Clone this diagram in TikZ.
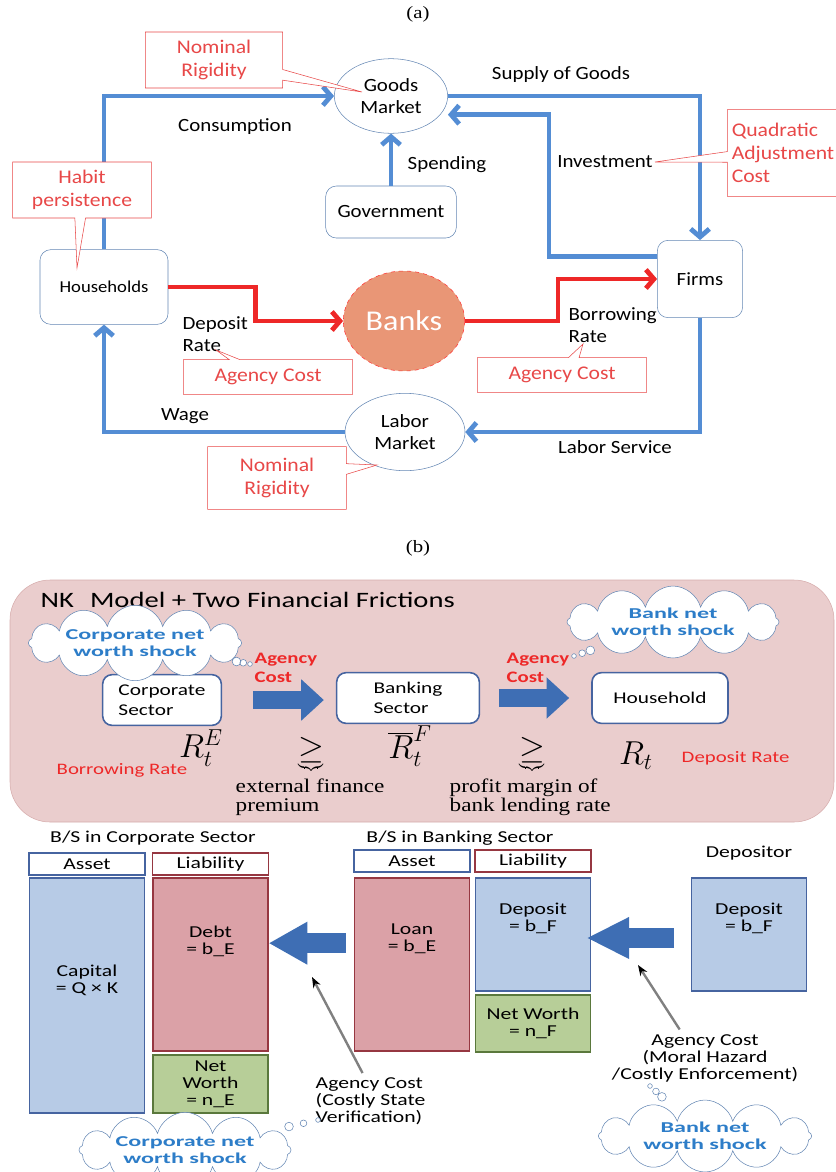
\documentclass[tikz,border=0pt]{standalone}
\usepackage{fontspec}
\setmainfont[FakeStretch=1.12]{Carlito}
\newfontfamily\wide[FakeStretch=1.3]{Carlito}
\newfontfamily\wider[FakeStretch=1.6]{Carlito}
\newfontfamily\tnr[FakeStretch=1.2]{Liberation Serif}
\usetikzlibrary{shapes.geometric,shapes.symbols,shapes.callouts,arrows.meta}
\tikzset{>={Straight Barb[length=6pt,width=14pt]}}
\definecolor{flowblue}{RGB}{84,141,212}
\definecolor{ratered}{RGB}{238,40,40}
\definecolor{notered}{RGB}{232,72,72}
\definecolor{edgeblue}{RGB}{100,135,180}
\definecolor{bankfill}{RGB}{233,150,118}
\definecolor{panelpink}{RGB}{234,205,205}
\definecolor{paneledge}{RGB}{214,172,172}
\definecolor{fatblue}{RGB}{62,110,180}
\definecolor{shockblue}{RGB}{45,125,200}
\definecolor{assetfill}{RGB}{183,203,230}
\definecolor{assetedge}{RGB}{70,100,160}
\definecolor{debtfill}{RGB}{219,161,167}
\definecolor{debtedge}{RGB}{150,55,65}
\definecolor{worthfill}{RGB}{183,206,152}
\definecolor{worthedge}{RGB}{90,120,60}

\begin{document}
\begin{tikzpicture}[x=.75pt,y=-.75pt]
      \tikzstyle{lbl}=[font=\fontsize{14}{17}\selectfont,inner sep=1pt];
      \tikzstyle{market}=[ellipse,draw=edgeblue,fill=white,align=center,inner sep=0pt,font=\fontsize{14}{17}\selectfont];
      \tikzstyle{agent}=[rectangle,rounded corners=8pt,draw=edgeblue,fill=white,align=center,font=\fontsize{14}{17}\selectfont];
      \tikzstyle{flowline}=[flowblue,line width=3.6pt,->];
      \tikzstyle{rateline}=[ratered,line width=3.6pt,->];
      \tikzstyle{notebox}=[rectangle callout,draw=notered,fill=white,text=notered,align=center,callout pointer width=8pt,font=\fontsize{14.5}{17}\selectfont];
      \tikzstyle{sectorbox}=[rectangle,rounded corners=7pt,draw=assetedge,line width=1.2pt,fill=white,align=left,minimum height=38pt,font=\wide\fontsize{12.3}{15}\selectfont];
      \tikzstyle{fatarrow}=[fatblue,line width=13pt,-{Triangle[length=17pt,width=30pt]}];
      \tikzstyle{agencylbl}=[text=ratered,align=left,anchor=west,font=\wide\bfseries\fontsize{12}{14}\selectfont];
      \tikzstyle{shockcloud}=[cloud callout,cloud puffs=12,cloud ignores aspect,draw=edgeblue,fill=white,text=shockblue,align=center,inner sep=0pt,callout pointer start size=8pt,callout pointer end size=3.5pt,callout pointer segments=3,font=\wider\bfseries\fontsize{11.3}{12.5}\selectfont];
      \tikzstyle{ratemath}=[inner sep=0pt,font=\fontsize{25}{28}\selectfont];
      \tikzstyle{gemath}=[inner sep=0pt,font=\fontsize{24}{26}\selectfont];
      \tikzstyle{serifnote}=[anchor=north west,align=left,font=\tnr\fontsize{14.5}{14.3}\selectfont];
      \tikzstyle{bsfont}=[font=\wide\fontsize{12.5}{12.8}\selectfont];
      \tikzstyle{bshead}=[bsfont,rectangle,fill=white,line width=1.2pt,minimum width=87pt,minimum height=16.5pt,inner sep=0pt];
      \tikzstyle{bsbox}=[rectangle,line width=1.2pt,minimum width=86pt,inner sep=0pt];
      \tikzstyle{bstext}=[bsfont,align=center];
      \tikzstyle{thinarrow}=[draw=gray,line width=1.8pt,-{Stealth[length=8pt,width=6pt,black]}];

      \useasboundingbox (0,0) rectangle (836,1172);

      \node[font=\tnr\fontsize{13}{15}\selectfont] (taga) at (418,14) {(a)};
      \node[market,minimum width=85pt,minimum height=56pt] (gm) at (391,96) {Goods\\Market};
      \node[agent,minimum width=96pt,minimum height=56pt,font=\fontsize{12.5}{15}\selectfont] (hh) at (104,287) {Households};
      \node[agent,minimum width=98pt,minimum height=39pt] (gov) at (391,212) {Government};
      \node[agent,minimum width=64pt,minimum height=58pt] (firms) at (700,279) {Firms};
      \node[ellipse,draw=red!80,dashed,fill=bankfill,text=white,minimum width=91pt,minimum height=75pt,font=\fontsize{21.5}{24}\selectfont] (banks) at (404,321) {Banks};
      \node[market,minimum width=90pt,minimum height=58pt] (lm) at (405,432) {Labor\\Market};

      \draw[flowline] (hh.north) |- (gm.west);
      \draw[flowline] (gov) -- (gm);
      \draw[flowline] (gm.east) -| (firms.north);
      \draw[flowline] ([yshift=17pt]firms.west) -- ++(-108,0) |- ([yshift=-14pt]gm.east);
      \draw[flowline] (firms.south) |- (lm.east);
      \draw[flowline] (lm.west) -| (hh.south);
      \draw[rateline] (hh.east) -- ++(87,0) |- (banks.west);
      \draw[rateline] (banks.east) -- ++(93,0) |- (firms.west);

      \node[lbl] (lcons) at (235,127) {Consumption};
      \node[lbl] (lspend) at (447,165) {Spending};
      \node[lbl] (lsupply) at (561,75) {Supply of Goods};
      \node[lbl] (linv) at (605,162) {Investment};
      \node[lbl,align=left,anchor=west] (ldep) at (181,334) {Deposit\\Rate};
      \node[lbl,align=left,anchor=west] (lborr) at (567,325) {Borrowing\\Rate};
      \node[lbl] (lwage) at (185,416) {Wage};
      \node[lbl] (llab) at (615,447) {Labor Service};

      \node[notebox,minimum width=103pt,minimum height=42pt,callout absolute pointer={(362,92)}] (nr1) at (214,60) {Nominal\\Rigidity};
      \node[notebox,minimum width=104pt,minimum height=42pt,callout absolute pointer={(77,268)}] (habit) at (82,190) {Habit\\persistence};
      \node[notebox,minimum width=80pt,minimum height=65pt,align=left,callout absolute pointer={(655,162)}] (quad) at (783,153) {Quadratic\\Adjustment\\Cost};
      \node[notebox,minimum width=127pt,minimum height=26pt,callout absolute pointer={(216,350)}] (ac1top) at (268,377) {Agency Cost};
      \node[notebox,minimum width=127pt,minimum height=26pt,callout absolute pointer={(583,344)}] (ac2top) at (562,375) {Agency Cost};
      \node[notebox,minimum width=104pt,minimum height=47pt,callout absolute pointer={(377,465)}] (nr2) at (277,478) {Nominal\\Rigidity};

      \node[font=\tnr\fontsize{13}{15}\selectfont] (tagb) at (418,548) {(b)};
      \draw[draw=paneledge,fill=panelpink,rounded corners=30pt] (10,580) rectangle (834,822);
      \node[anchor=west,font=\wide\fontsize{16.5}{18}\selectfont] (title) at (36,600) {NK\hspace{12pt}Model + Two Financial Frictions};

      \node[sectorbox,minimum width=89pt] (corp) at (162,700) {Corporate\\Sector};
      \node[sectorbox,minimum width=107pt] (bank) at (408,698) {Banking\\Sector};
      \node[sectorbox,minimum width=102pt] (house) at (660,698) {Household};
      \draw[fatarrow,shorten <=23pt,shorten >=9pt] (corp.east) -- (bank.west |- corp.east);
      \draw[fatarrow,shorten <=14pt,shorten >=16.5pt] (bank.east) -- (house.west);
      \node[agencylbl] (ag1) at (250,668) {Agency\\Cost};
      \node[agencylbl] (ag2) at (502,668) {Agency\\Cost};

      \node[shockcloud,minimum width=160pt,minimum height=38pt,callout absolute pointer={(250,664)}] (cs1) at (135,643) {Corporate net\\worth shock};
      \node[shockcloud,minimum width=159pt,minimum height=47pt,callout absolute pointer={(574,656)}] (bs1) at (673,622) {Bank net\\worth shock};

      \node[ratemath] (re) at (201,748) {$R_t^E$};
      \node[ratemath] (rf) at (410,746) {$\overline{R}_t^F$};
      \node[ratemath] (rt) at (636,756) {$R_t$};
      \node[gemath] (ge1) at (311,755) {$\underbrace{\geq}$};
      \node[gemath] (ge2) at (532,755) {$\underbrace{\geq}$};
      \node[text=ratered,anchor=west,font=\wide\fontsize{12}{14}\selectfont] (lborrow) at (52,770) {Borrowing Rate};
      \node[text=ratered,anchor=west,font=\wide\fontsize{12}{14}\selectfont] (ldeposit) at (677,758) {Deposit Rate};
      \node[serifnote] (efp) at (231,774) {external finance\\premium};
      \node[serifnote] (pm) at (445,774) {profit margin of\\bank lending rate};

      \node[bsfont] (bsc) at (153,838) {B/S in Corporate Sector};
      \node[bshead,draw=assetedge] (ca) at (87,864) {Asset};
      \node[bshead,draw=debtedge] (cl) at (210.5,864) {Liability};
      \node[bsbox,draw=assetedge,fill=assetfill,minimum height=176pt] (capital) at (87,995.5) {};
      \node[bsbox,draw=debtedge,fill=debtfill,minimum height=130pt] (debt) at (210.5,964.5) {};
      \node[bsbox,draw=worthedge,fill=worthfill,minimum height=43.5pt] (nwe) at (210.5,1084) {};
      \node[bstext] (capitalt) at (87,980) {Capital\\= Q × K};
      \node[bstext] (debtt) at (210.5,941) {Debt\\= b\_E};
      \node[bstext] (nwet) at (210.5,1084) {Net\\Worth\\= n\_E};

      \node[bsfont] (bsb) at (460,838) {B/S in Banking Sector};
      \node[bshead,draw=assetedge] (ba) at (412,861) {Asset};
      \node[bshead,draw=debtedge] (bl) at (533,861) {Liability};
      \node[bsbox,draw=debtedge,fill=debtfill,minimum height=130pt] (loan) at (412,964.5) {};
      \node[bsbox,draw=assetedge,fill=assetfill,minimum height=85pt] (bdep) at (533,934.5) {};
      \node[bsbox,draw=worthedge,fill=worthfill,minimum height=43pt] (nwf) at (533,1023.5) {};
      \node[bstext] (loant) at (412,939) {Loan\\= b\_E};
      \node[bstext] (bdept) at (533,918) {Deposit\\= b\_F};
      \node[bstext] (nwft) at (533,1023) {Net Worth\\= n\_F};

      \node[bsfont] (dlbl) at (749,853) {Depositor};
      \node[bsbox,draw=assetedge,fill=assetfill,minimum height=85pt] (ddep) at (749,934.5) {};
      \node[bstext] (ddept) at (749,918) {Deposit\\= b\_F};

      \draw[fatarrow,line width=15pt,-{Triangle[length=29pt,width=30pt]},shorten <=6pt] ([yshift=16pt]loan.west) -- ([yshift=16pt]debt.east);
      \draw[fatarrow,line width=15pt,-{Triangle[length=32pt,width=29pt]},shorten <=12.5pt,shorten >=-3.5pt] ([yshift=-2.6pt]ddep.west) -- ([yshift=-2.6pt]bdep.east);

      \node[bstext,anchor=north west,align=left] (ac1) at (311,1073) {Agency Cost\\(Costly State\\Verification)};
      \node[bstext] (ac2) at (705,1058) {Agency Cost\\(Moral Hazard\\/Costly Enforcement)};
      \coordinate (ac1tip) at (312,977);
      \coordinate (ac2tip) at (638,965);
      \draw[thinarrow] ([xshift=-6pt]ac1.north) -- (ac1tip);
      \draw[thinarrow] ([xshift=-19pt]ac2.north) -- (ac2tip);

      \node[shockcloud,minimum width=159pt,minimum height=38pt,callout absolute pointer={(318,1120)}] (cs2) at (185,1150) {Corporate net\\worth shock};
      \node[shockcloud,minimum width=160pt,minimum height=41pt,callout absolute pointer={(650,1086)}] (bs2) at (705,1136) {Bank net\\worth shock};
\end{tikzpicture}
\end{document}
